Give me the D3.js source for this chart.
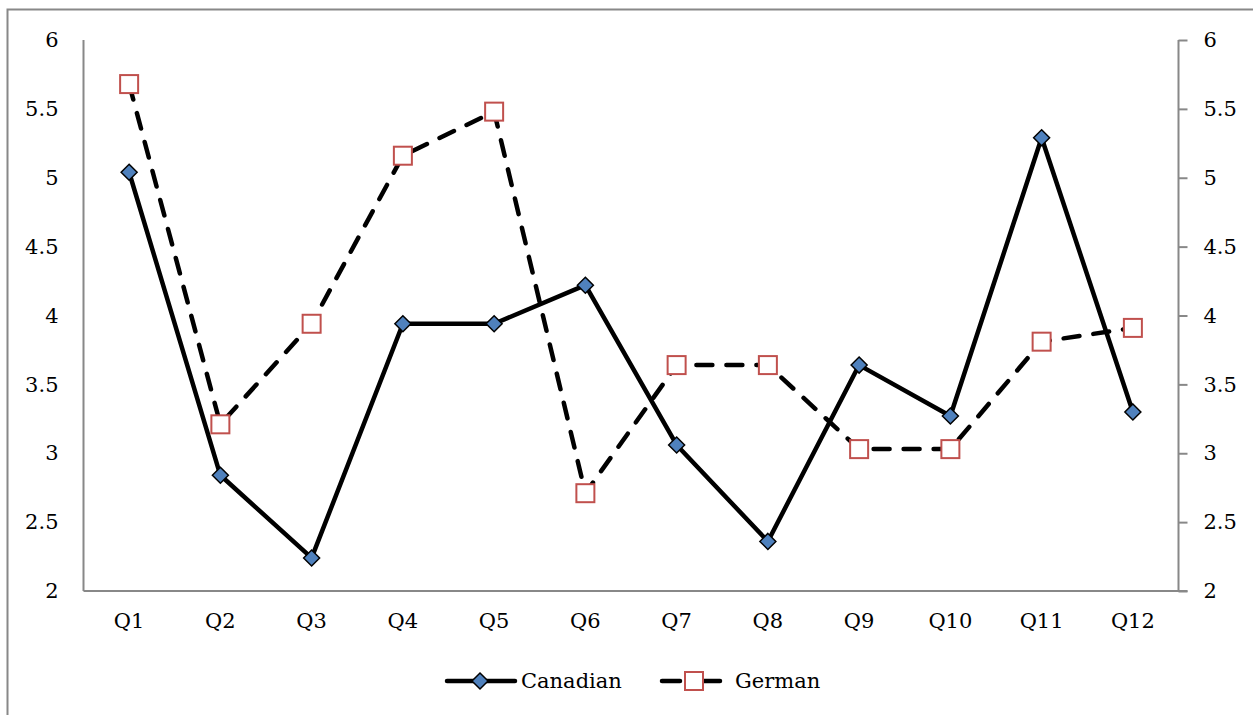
<!DOCTYPE html>
<html><head><meta charset="utf-8">
<script src="https://cdn.jsdelivr.net/npm/d3@7"></script>
<style>body{margin:0;background:#fff}svg{display:block}</style>
</head><body>
<script>
const categories = ["Q1","Q2","Q3","Q4","Q5","Q6","Q7","Q8","Q9","Q10","Q11","Q12"];
const canadian = [5.04,2.84,2.24,3.94,3.94,4.22,3.06,2.36,3.64,3.27,5.29,3.30];
const german   = [5.68,3.21,3.94,5.16,5.48,2.71,3.64,3.64,3.03,3.03,3.81,3.91];
const yTicks = [2,2.5,3,3.5,4,4.5,5,5.5,6];
const seriesNames = ["Canadian","German"];

const W=1253,H=715;
const font = "'DejaVu Serif', serif";
const fs = 21;
const svg = d3.select("body").append("svg").attr("width",W).attr("height",H);
svg.append("rect").attr("x",7.5).attr("y",9.5).attr("width",W).attr("height",H)
  .attr("fill","none").attr("stroke","#888").attr("stroke-width",2);

const x0=83.5,x1=1178.5,yTop=40,yBot=591;
const x = d3.scaleBand().domain(categories).range([x0,x1]);
const y = d3.scaleLinear().domain([2,6]).range([yBot,yTop]);
const cx = d => x(d)+x.bandwidth()/2;

const gl = svg.append("g").attr("transform",`translate(${x0},0)`)
  .call(d3.axisLeft(y).tickValues(yTicks).tickSize(0).tickPadding(25).tickFormat(d3.format("")));
const gr = svg.append("g").attr("transform",`translate(${x1},0)`)
  .call(d3.axisRight(y).tickValues(yTicks).tickSize(9).tickPadding(16).tickFormat(d3.format("")));
const gb = svg.append("g").attr("transform",`translate(0,${yBot})`)
  .call(d3.axisBottom(x).tickSize(0).tickPadding(22));
[gl,gr,gb].forEach(g=>{
  g.select(".domain").attr("stroke","#888").attr("stroke-width",2);
  g.selectAll(".tick line").attr("stroke","#888").attr("stroke-width",2);
  g.selectAll("text").attr("font-family",font).attr("font-size",fs).attr("fill","#000");
});
gl.select(".domain").attr("d",`M0,${yTop}V${yBot}`);
gr.select(".domain").attr("d",`M0,${yTop}V${yBot}`);
gb.select(".domain").attr("d",`M${x0},0H${x1+9}`);

const line = d3.line().x((d,i)=>cx(categories[i])).y(d=>y(d));
svg.append("path").datum(canadian).attr("d",line).attr("fill","none")
  .attr("stroke","#000").attr("stroke-width",4.5).attr("stroke-linejoin","round");
svg.append("path").datum(german).attr("d",line).attr("fill","none")
  .attr("stroke","#000").attr("stroke-width",4.5).attr("stroke-dasharray","16,14")
  .attr("stroke-linecap","round").attr("stroke-linejoin","round");

const diamond = (g,px,py)=>g.append("path")
  .attr("d",`M${px},${py-8}L${px+8},${py}L${px},${py+8}L${px-8},${py}Z`)
  .attr("fill","#4f81bd").attr("stroke","#000").attr("stroke-width",1.5);
const square = (g,px,py)=>g.append("rect").attr("x",px-9).attr("y",py-9).attr("width",18).attr("height",18)
  .attr("fill","#fff").attr("stroke","#c0504d").attr("stroke-width",2);

const mk = svg.append("g");
canadian.forEach((v,i)=>diamond(mk,cx(categories[i]),y(v)));
german.forEach((v,i)=>square(mk,cx(categories[i]),y(v)));

const lg = svg.append("g");
const ly=681;
lg.append("line").attr("x1",447).attr("x2",515).attr("y1",ly).attr("y2",ly)
  .attr("stroke","#000").attr("stroke-width",4.5).attr("stroke-linecap","round");
diamond(lg,480,ly);
lg.append("text").attr("x",521).attr("y",ly+7).text(seriesNames[0])
  .attr("font-family",font).attr("font-size",fs);
lg.append("line").attr("x1",662).attr("x2",680).attr("y1",ly).attr("y2",ly)
  .attr("stroke","#000").attr("stroke-width",4.5).attr("stroke-linecap","round");
lg.append("line").attr("x1",704).attr("x2",720).attr("y1",ly).attr("y2",ly)
  .attr("stroke","#000").attr("stroke-width",4.5).attr("stroke-linecap","round");
square(lg,694,ly);
lg.append("text").attr("x",735).attr("y",ly+7).text(seriesNames[1])
  .attr("font-family",font).attr("font-size",fs);
</script>
</body></html>
